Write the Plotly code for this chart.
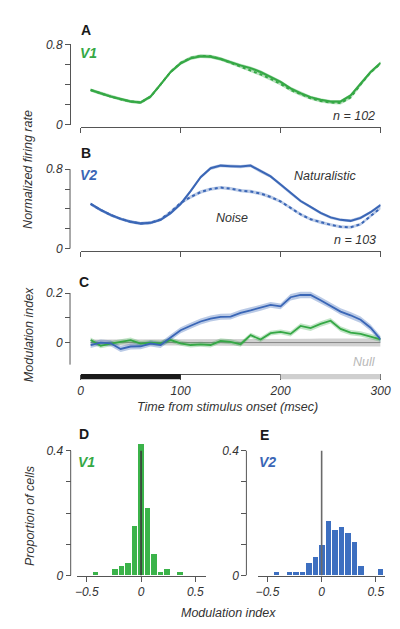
import plotly.graph_objects as go

# ---------------- data ----------------
t = [10, 20, 30, 40, 50, 60, 70, 80, 90, 100, 110, 120, 130, 140, 150,
     160, 170, 180, 190, 200, 210, 220, 230, 240, 250, 260, 270, 280, 290, 300]

v1_nat = [0.345, 0.312, 0.28, 0.254, 0.23, 0.22, 0.28, 0.40, 0.524, 0.61, 0.66, 0.68, 0.676, 0.654, 0.62,
          0.59, 0.563, 0.524, 0.475, 0.426, 0.36, 0.312, 0.273, 0.247, 0.23, 0.23, 0.29, 0.41, 0.524, 0.615]
v1_noise = [0.345, 0.31, 0.278, 0.252, 0.23, 0.22, 0.278, 0.40, 0.525, 0.615, 0.665, 0.685, 0.68, 0.655, 0.618,
            0.58, 0.54, 0.50, 0.455, 0.405, 0.345, 0.30, 0.262, 0.235, 0.22, 0.215, 0.27, 0.40, 0.52, 0.61]
v2_nat = [0.45, 0.39, 0.34, 0.30, 0.27, 0.253, 0.26, 0.29, 0.357, 0.45, 0.58, 0.72, 0.81, 0.836, 0.83,
          0.826, 0.836, 0.78, 0.728, 0.645, 0.56, 0.48, 0.42, 0.36, 0.315, 0.29, 0.28, 0.31, 0.367, 0.44]
v2_noise = [0.45, 0.39, 0.34, 0.30, 0.27, 0.253, 0.26, 0.295, 0.37, 0.46, 0.52, 0.57, 0.60, 0.615, 0.605,
            0.585, 0.575, 0.555, 0.52, 0.475, 0.41, 0.345, 0.296, 0.264, 0.24, 0.22, 0.215, 0.246, 0.33, 0.41]
rate_sem = [0.015, 0.015, 0.015, 0.015, 0.015, 0.015, 0.015, 0.015, 0.016, 0.016, 0.017, 0.017, 0.017, 0.017, 0.017,
            0.017, 0.017, 0.017, 0.017, 0.016, 0.016, 0.016, 0.015, 0.015, 0.015, 0.015, 0.015, 0.016, 0.016, 0.016]

mi_v2 = [-0.01, 0.0, -0.003, -0.026, -0.016, -0.015, -0.004, -0.01, 0.02, 0.05, 0.068, 0.085, 0.097, 0.104, 0.105,
         0.12, 0.13, 0.14, 0.152, 0.146, 0.183, 0.192, 0.192, 0.171, 0.149, 0.125, 0.11, 0.092, 0.06, 0.013]
mi_v1 = [0.01, -0.013, -0.004, 0.003, 0.01, -0.004, 0.0, -0.003, 0.01, -0.003, -0.01, -0.007, -0.01, 0.007, 0.003,
         -0.007, 0.03, 0.012, 0.038, 0.043, 0.035, 0.067, 0.058, 0.075, 0.088, 0.055, 0.04, 0.035, 0.025, 0.013]
mi_sem_v2 = [0.012, 0.012, 0.012, 0.012, 0.012, 0.012, 0.012, 0.012, 0.012, 0.012, 0.012, 0.012, 0.012, 0.012, 0.012,
             0.012, 0.012, 0.012, 0.012, 0.012, 0.013, 0.013, 0.013, 0.013, 0.013, 0.013, 0.013, 0.013, 0.013, 0.013]
mi_sem_v1 = [0.01, 0.01, 0.01, 0.01, 0.01, 0.01, 0.01, 0.01, 0.01, 0.01, 0.01, 0.01, 0.01, 0.01, 0.01,
             0.01, 0.01, 0.01, 0.01, 0.01, 0.011, 0.011, 0.011, 0.011, 0.011, 0.011, 0.011, 0.011, 0.011, 0.011]
null_sem = [0.012, 0.012, 0.012, 0.012, 0.012, 0.012, 0.012, 0.012, 0.012, 0.012, 0.012, 0.012, 0.012, 0.013, 0.013,
            0.013, 0.013, 0.014, 0.014, 0.014, 0.015, 0.015, 0.015, 0.016, 0.016, 0.016, 0.016, 0.016, 0.016, 0.016]

hist_v1_x = [-0.42, -0.24, -0.18, -0.12, -0.06, 0.0, 0.06, 0.12, 0.18, 0.24, 0.36]
hist_v1_y = [0.0098, 0.0196, 0.0294, 0.039, 0.157, 0.42, 0.216, 0.0686, 0.0098, 0.0196, 0.0098]
hist_v2_x = [-0.42, -0.30, -0.24, -0.18, -0.12, -0.06, 0.0, 0.06, 0.12, 0.18, 0.24, 0.30, 0.36, 0.54]
hist_v2_y = [0.0097, 0.0097, 0.0097, 0.0097, 0.0388, 0.058, 0.097, 0.175, 0.146, 0.155, 0.136, 0.107, 0.029, 0.019]

time_ticks = [0, 100, 200, 300]
mi_ticks = [-0.5, 0, 0.5]
mi_tick_text = ["\u22120.5", "0", "0.5"]

# ---------------- style ----------------
W, H = 400, 629
FONT = "Liberation Sans, Arial, Helvetica, sans-serif"
GREEN = "#35a845"
GREEN_BAND = "rgba(53,168,69,0.35)"
BLUE = "#3a66b6"
BLUE_BAND = "rgba(58,102,182,0.35)"
GREEN_BAR = "#3bb34a"
BLUE_BAR = "#3d6fc0"
AX = "#555555"
TXT = "#333333"


def px(p):
    return p / W


def py(p):
    return 1 - p / H


fig = go.Figure()


def band(x, y, s, color, xa, ya):
    up = [a + b for a, b in zip(y, s)]
    lo = [a - b for a, b in zip(y, s)]
    fig.add_trace(go.Scatter(x=list(x) + list(x)[::-1], y=up + lo[::-1], fill="toself",
                             fillcolor=color, line=dict(width=0), mode="lines",
                             hoverinfo="skip", showlegend=False, xaxis=xa, yaxis=ya))


def line(x, y, color, dash, xa, ya, w=2):
    fig.add_trace(go.Scatter(x=x, y=y, mode="lines", line=dict(color=color, width=w, dash=dash),
                             showlegend=False, xaxis=xa, yaxis=ya))


# Panel A
band(t, v1_noise, rate_sem, GREEN_BAND, "x", "y")
band(t, v1_nat, rate_sem, GREEN_BAND, "x", "y")
line(t, v1_noise, GREEN, "dot", "x", "y")
line(t, v1_nat, GREEN, "solid", "x", "y")

# Panel B
band(t, v2_noise, rate_sem, BLUE_BAND, "x2", "y2")
band(t, v2_nat, rate_sem, BLUE_BAND, "x2", "y2")
line(t, v2_noise, BLUE, "dot", "x2", "y2")
line(t, v2_nat, BLUE, "solid", "x2", "y2")

# Panel C
band(t, [0] * len(t), null_sem, "rgba(190,190,190,0.7)", "x3", "y3")
line([t[0], t[-1]], [0, 0], "#888888", "solid", "x3", "y3", w=1)
band(t, mi_v1, mi_sem_v1, "rgba(53,168,69,0.3)", "x3", "y3")
band(t, mi_v2, mi_sem_v2, "rgba(58,102,182,0.35)", "x3", "y3")
line(t, mi_v1, GREEN, "solid", "x3", "y3", w=1.8)
line(t, mi_v2, BLUE, "solid", "x3", "y3", w=1.8)

# Panels D, E
fig.add_trace(go.Bar(x=hist_v1_x, y=hist_v1_y, width=0.048, marker=dict(color=GREEN_BAR, line=dict(width=0)),
                     showlegend=False, xaxis="x4", yaxis="y4"))
fig.add_trace(go.Bar(x=hist_v2_x, y=hist_v2_y, width=0.048, marker=dict(color=BLUE_BAR, line=dict(width=0)),
                     showlegend=False, xaxis="x5", yaxis="y5"))

tickfont = dict(family=FONT, size=12, color=TXT, style="italic")
common_ax = dict(showgrid=False, zeroline=False, ticks="outside", ticklen=5, tickwidth=1,
                 tickcolor=AX, linecolor=AX, linewidth=1, tickfont=tickfont, fixedrange=True)

# time x-axes
xdom = [px(72), px(382)]
fig.update_layout(
    xaxis=dict(domain=xdom, range=[0, 300], anchor="free", position=py(114.5), tickvals=time_ticks,
               showticklabels=False, showline=True, **common_ax),
    yaxis=dict(domain=[py(112), py(30)], range=[0, 0.8], anchor="free", position=px(61),
               tickvals=[0, 0.2, 0.4, 0.6, 0.8], ticktext=["0", "", "", "", "0.8"], showline=True, **common_ax),
    xaxis2=dict(domain=xdom, range=[0, 300], anchor="free", position=py(241), tickvals=time_ticks,
                showticklabels=False, showline=True, **common_ax),
    yaxis2=dict(domain=[py(239), py(150.6)], range=[0, 0.87], anchor="free", position=px(61),
                tickvals=[0, 0.2, 0.4, 0.6, 0.8], ticktext=["0", "", "", "", "0.8"], showline=False, **common_ax),
    xaxis3=dict(domain=xdom, range=[0, 300], anchor="free", position=py(367.3), tickvals=time_ticks,
                showticklabels=True, showline=True, **common_ax),
    yaxis3=dict(domain=[py(357.8), py(281.8)], range=[-0.09, 0.21], anchor="free", position=px(61),
                tickvals=[0, 0.1, 0.2], ticktext=["0", "", "0.2"], showline=False, **common_ax),
    xaxis4=dict(domain=[px(68.3), px(201.7)], range=[-0.59, 0.6], anchor="y4", tickvals=mi_ticks,
                ticktext=mi_tick_text, showline=True, **common_ax),
    yaxis4=dict(domain=[py(573.3), py(432.9)], range=[0, 0.44], anchor="free", position=px(61.7),
                tickvals=[0, 0.1, 0.2, 0.3, 0.4], ticktext=["0", "", "", "", "0.4"], showline=False, **common_ax),
    xaxis5=dict(domain=[px(255), px(386.7)], range=[-0.59, 0.586], anchor="y5", tickvals=mi_ticks,
                ticktext=mi_tick_text, showline=True, **common_ax),
    yaxis5=dict(domain=[py(573.3), py(432.9)], range=[0, 0.44], anchor="free", position=px(243.3),
                tickvals=[0, 0.1, 0.2, 0.3, 0.4], ticktext=["0", "", "", "", "0.4"], showline=False, **common_ax),
)

shapes = []
# y axis lines drawn as shapes where data exceeds the top tick
shapes.append(dict(type="line", xref="paper", yref="y2", x0=px(61), x1=px(61), y0=0, y1=0.8,
                   line=dict(color=AX, width=1)))
shapes.append(dict(type="line", xref="paper", yref="y3", x0=px(61), x1=px(61), y0=-0.09, y1=0.2,
                   line=dict(color=AX, width=1)))
shapes.append(dict(type="line", xref="paper", yref="y4", x0=px(61.7), x1=px(61.7), y0=0, y1=0.4,
                   line=dict(color=AX, width=1)))
shapes.append(dict(type="line", xref="paper", yref="y5", x0=px(243.3), x1=px(243.3), y0=0, y1=0.4,
                   line=dict(color=AX, width=1)))
# stimulus bars under panel C
shapes.append(dict(type="rect", xref="x3", yref="paper", x0=0, x1=100, y0=py(372.5), y1=py(367.3),
                   fillcolor="#1a1a1a", line=dict(width=0)))
shapes.append(dict(type="rect", xref="x3", yref="paper", x0=200, x1=300, y0=py(372.5), y1=py(367.3),
                   fillcolor="#cfcfcf", line=dict(width=0)))
# zero lines in histograms
shapes.append(dict(type="line", xref="x4", yref="y4", x0=0, x1=0, y0=0, y1=0.4,
                   line=dict(color="#3a3a3a", width=1.6), layer="above"))
shapes.append(dict(type="line", xref="x5", yref="y5", x0=0, x1=0, y0=0, y1=0.4,
                   line=dict(color="#6a6a6a", width=1.6), layer="above"))
fig.update_layout(shapes=shapes)

ann = []


def text(s, x, y, size=12, color=TXT, bold=False, italic=True, xanchor="center", angle=0):
    ann.append(dict(text=s, x=px(x), y=py(y), xref="paper", yref="paper", showarrow=False,
                    xanchor=xanchor, yanchor="middle", textangle=angle,
                    font=dict(family=FONT, size=size, color=color,
                              weight="bold" if bold else "normal",
                              style="italic" if italic else "normal")))


# panel letters
text("A", 70, 15, size=14, color="#1a1a1a", bold=True, italic=False, xanchor="left")
text("B", 70, 141, size=14, color="#1a1a1a", bold=True, italic=False, xanchor="left")
text("C", 68, 273, size=14, color="#1a1a1a", bold=True, italic=False, xanchor="left")
text("D", 68, 429, size=14, color="#1a1a1a", bold=True, italic=False, xanchor="left")
text("E", 255, 430, size=14, color="#1a1a1a", bold=True, italic=False, xanchor="left")
# area labels
text("V1", 69, 39, size=14, color=GREEN, bold=True, xanchor="left")
text("V2", 69, 164, size=14, color=BLUE, bold=True, xanchor="left")
text("V1", 67, 457, size=14, color=GREEN, bold=True, xanchor="left")
text("V2", 254, 457, size=14, color=BLUE, bold=True, xanchor="left")
# misc
text("n = 102", 378, 103, size=12.5, xanchor="right")
text("n = 103", 379, 230, size=12.5, xanchor="right")
text("Naturalistic", 325, 165, size=12.5)
text("Noise", 228, 208, size=12.5)
text("Null", 379, 355, size=12.5, color="#b8b8b8", xanchor="right")
# axis titles
text("Normalized firing rate", 18, 158, size=12.5, angle=-90)
text("Modulation index", 18, 327, size=12.5, angle=-90)
text("Proportion of cells", 19, 512, size=12.5, angle=-90)
text("Time from stimulus onset (msec)", 224, 401, size=12.5)
text("Modulation index", 225, 612, size=12.5)
fig.update_layout(annotations=ann)

fig.update_layout(width=W, height=H, autosize=False, margin=dict(l=0, r=0, t=0, b=0),
                  paper_bgcolor="white", plot_bgcolor="white", bargap=0,
                  font=dict(family=FONT, color=TXT))

fig.write_html("out.html", config={"displayModeBar": False})
